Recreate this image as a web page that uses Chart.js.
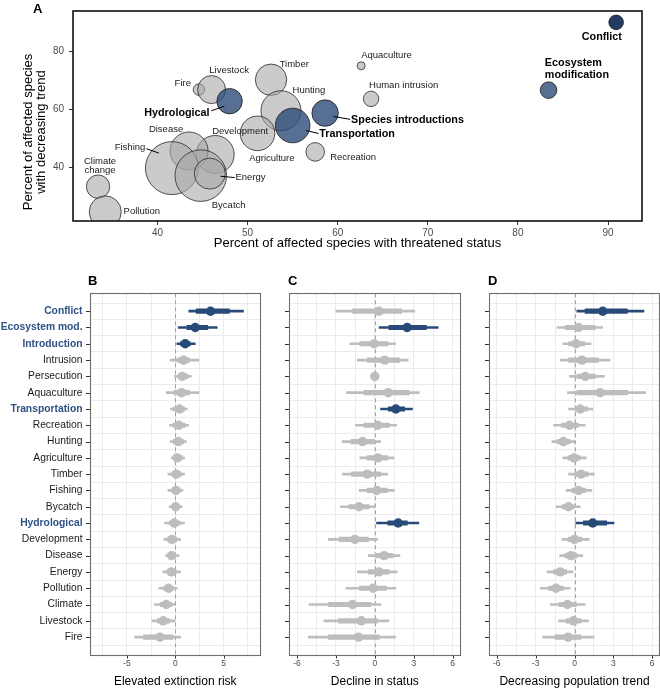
<!DOCTYPE html>
<html><head><meta charset="utf-8">
<script src="https://cdn.jsdelivr.net/npm/chart.js@4"></script>
<style>
html,body{margin:0;padding:0;background:#fff;}
body{width:660px;height:692px;position:relative;overflow:hidden;font-family:"Liberation Sans",Arial,sans-serif;}
canvas{position:absolute;}
.pl{position:absolute;font:bold 13px "Liberation Sans",Arial,sans-serif;color:#000;line-height:16px;}
</style></head><body>
<canvas id="cA" width="660" height="258" style="left:0;top:0"></canvas>
<canvas id="cB" width="270" height="422" style="left:0;top:270px"></canvas>
<canvas id="cC" width="190" height="422" style="left:280px;top:270px"></canvas>
<canvas id="cD" width="180" height="422" style="left:480px;top:270px"></canvas>
<div class="pl" style="left:33px;top:1px">A</div>
<div class="pl" style="left:88px;top:273px">B</div>
<div class="pl" style="left:288px;top:273px">C</div>
<div class="pl" style="left:488px;top:273px">D</div>
<script>
// ---------------- Panel A data ----------------
const threatNames = ['Climate change','Pollution','Fire','Livestock','Hydrological','Timber','Hunting','Development','Disease','Fishing','Bycatch','Energy','Agriculture','Transportation','Recreation','Species introductions','Aquaculture','Human intrusion','Ecosystem modification','Conflict'];
const pctThreatened = [33.4,34.2,44.6,46.0,48.0,52.6,53.7,46.4,43.5,41.6,44.8,45.8,51.1,55.0,57.5,58.6,62.6,63.7,83.4,90.9];
const pctDecreasing = [33.4,24.7,66.9,66.9,62.9,70.3,59.6,44.5,45.7,39.8,37.2,37.9,51.8,54.5,45.4,58.8,75.1,63.7,66.7,90.1];
const bubbleSize = [11.7,16,5.7,14,12.7,15.7,20,19,19,26.5,25.8,15.5,17.3,17.3,9.3,13.2,4,7.7,8.3,7.3];
const highlightedThreats = ['Hydrological','Transportation','Species introductions','Ecosystem modification','Conflict'];
const xTicksA = [40,50,60,70,80,90];
const yTicksA = [40,60,80];

// ---------------- Panels B-D data ----------------
const driverLabels = ['Conflict','Ecosystem mod.','Introduction','Intrusion','Persecution','Aquaculture','Transportation','Recreation','Hunting','Agriculture','Timber','Fishing','Bycatch','Hydrological','Development','Disease','Energy','Pollution','Climate','Livestock','Fire'];
const highlightedDrivers = ['Conflict','Ecosystem mod.','Introduction','Transportation','Hydrological'];

const riskMean = [3.65,2.07,1.03,0.86,0.72,0.65,0.45,0.38,0.31,0.2,0.12,0.07,0.03,-0.1,-0.35,-0.38,-0.41,-0.69,-0.93,-1.24,-1.59];
const riskLo95 = [1.4,0.31,0.17,-0.52,-0.07,-0.93,-0.49,-0.59,-0.52,-0.41,-0.76,-0.76,-0.64,-1.1,-1.18,-1.0,-1.28,-1.7,-2.14,-2.42,-4.2];
const riskHi95 = [7.06,4.34,2.07,2.44,1.65,2.44,1.24,1.38,1.14,0.96,0.96,0.79,0.72,0.96,0.55,0.38,0.55,0.2,0.0,0.0,0.55];
const riskLo66 = [2.17,1.2,0.55,0.2,0.3,-0.14,-0.17,-0.24,-0.2,-0.15,-0.35,-0.35,-0.3,-0.6,-0.8,-0.7,-0.85,-1.2,-1.55,-1.85,-3.28];
const riskHi66 = [5.6,3.37,1.55,1.48,1.3,1.48,0.96,1.03,0.85,0.7,0.6,0.5,0.45,0.5,0.15,0.05,0.1,-0.2,-0.35,-0.6,-0.24];
const riskSignificant = ['Conflict','Ecosystem mod.','Introduction'];

const statusMean = [0.31,2.49,-0.05,0.77,0.0,1.03,1.62,0.23,-0.95,0.23,-0.59,0.15,-1.21,1.8,-1.54,0.72,0.31,-0.13,-1.72,-1.03,-1.26];
const statusLo95 = [-3.0,0.33,-1.93,-1.36,-0.1,-2.18,0.44,-1.49,-2.52,-1.16,-2.49,-1.21,-2.65,0.13,-3.6,-0.51,-1.34,-2.24,-5.07,-3.93,-5.14];
const statusHi95 = [3.08,4.88,1.59,2.57,0.1,3.42,2.9,1.67,0.44,1.47,0.98,1.49,0.03,3.39,0.21,1.93,1.72,1.62,0.46,1.08,1.59];
const statusLo66 = [-1.72,1.08,-1.16,-0.57,-0.05,-0.85,1.03,-0.85,-1.85,-0.6,-1.8,-0.6,-2.0,1.0,-2.75,0.05,-0.5,-1.2,-3.6,-2.8,-3.6];
const statusHi66 = [2.06,3.98,1.02,1.93,0.05,2.65,2.3,1.13,-0.05,1.0,0.44,0.95,-0.45,2.5,-0.5,1.4,1.1,0.9,-0.3,0.2,0.35];
const statusSignificant = ['Ecosystem mod.','Transportation','Hydrological'];

const trendMean = [2.18,0.31,0.13,0.57,0.82,1.98,0.44,-0.38,-0.85,-0.03,0.51,0.31,-0.46,1.41,0.0,-0.28,-1.1,-1.43,-0.54,-0.08,-0.49];
const trendLo95 = [0.18,-1.35,-0.9,-1.1,-0.38,-0.54,-0.46,-1.62,-1.74,-0.9,-0.46,-0.64,-1.41,0.1,-0.97,-1.15,-2.12,-2.64,-1.87,-1.23,-2.46];
const trendHi95 = [5.36,2.18,1.28,2.75,2.31,5.49,1.41,0.82,0.05,0.9,1.54,1.34,0.44,3.05,1.13,0.64,-0.13,-0.33,0.82,1.08,1.51];
const trendLo66 = [0.82,-0.72,-0.45,-0.46,0.2,0.18,0.0,-1.0,-1.35,-0.5,0.0,-0.2,-0.95,0.69,-0.5,-0.75,-1.6,-2.0,-1.2,-0.65,-1.5];
const trendHi66 = [4.08,1.6,0.8,1.85,1.6,4.1,1.0,0.3,-0.35,0.45,1.05,0.85,0.0,2.49,0.55,0.2,-0.6,-0.85,0.15,0.5,0.5];
const trendSignificant = ['Conflict','Hydrological'];

const riskTicks = [-7.5,-5,-2.5,0,2.5,5,7.5];
const riskTickLabels = [-5,0,5];
const sixTicks = [-6,-4.5,-3,-1.5,0,1.5,3,4.5,6];
const sixTickLabels = [-6,-3,0,3,6];

// ---------------- styles ----------------
const FONT = '"Liberation Sans", Arial, Helvetica, sans-serif';
const BLUE = '#284a78';
const GREY = '#bdbdbd';
const LABEL_BLUE = '#2f5286';

// ---------------- Panel A ----------------
const labelLayout = {
  'Climate change': {lines:['Climate','change'], dx:2, dy:-25.3, lh:8.8, align:'center'},
  'Pollution': {dx:18.3, dy:-0.4, align:'left'},
  'Fire': {dx:-8, dy:-6, align:'right'},
  'Livestock': {dx:17.5, dy:-19.3, align:'center'},
  'Hydrological': {dx:-20, dy:12.3, align:'right', leader:[-18.3,9.6,-5.3,5]},
  'Timber': {dx:8.6, dy:-15.7, align:'left'},
  'Hunting': {dx:11.6, dy:-20.4, align:'left'},
  'Development': {dx:-3, dy:-22.7, align:'left'},
  'Disease': {dx:-23, dy:-22, align:'center'},
  'Fishing': {dx:-26.6, dy:-21, align:'right', leader:[-25.6,-19.4,-13,-15]},
  'Energy': {dx:25.7, dy:3.3, align:'left', leader:[10.7,2.6,25,4]},
  'Bycatch': {dx:11, dy:29.7, align:'left'},
  'Agriculture': {dx:-8.4, dy:25, align:'left'},
  'Transportation': {dx:26.7, dy:9, align:'left', leader:[13.4,5,26,8]},
  'Recreation': {dx:15, dy:5, align:'left'},
  'Species introductions': {dx:26, dy:7.3, align:'left', leader:[8.3,3.3,25,6.3]},
  'Aquaculture': {dx:0, dy:-10.3, align:'left'},
  'Human intrusion': {dx:-2, dy:-13.6, align:'left'},
  'Ecosystem modification': {lines:['Ecosystem','modification'], dx:-3.7, dy:-27.3, lh:12.3, align:'left'},
  'Conflict': {dx:-14.3, dy:14.3, align:'center'}
};

const annotPlugin = {
  id:'annotA',
  afterDatasetsDraw(chart){
    const ctx = chart.ctx, xs = chart.scales.x, ys = chart.scales.y, a = chart.chartArea;
    ctx.save();
    threatNames.forEach((name,i)=>{
      const L = labelLayout[name]; if(!L) return;
      const px = xs.getPixelForValue(pctThreatened[i]);
      const py = ys.getPixelForValue(pctDecreasing[i]);
      const bold = highlightedThreats.includes(name);
      ctx.font = (bold ? 'bold 10.8px ' : '9.5px ') + FONT;
      ctx.fillStyle = bold ? '#000' : '#1a1a1a';
      ctx.textAlign = L.align; ctx.textBaseline = 'middle';
      const lines = L.lines || [name];
      lines.forEach((t,k)=>ctx.fillText(t, px+L.dx, py+L.dy+k*(L.lh||0)));
      if(L.leader){
        ctx.strokeStyle = '#000'; ctx.lineWidth = 1;
        ctx.beginPath();
        ctx.moveTo(px+L.leader[0], py+L.leader[1]);
        ctx.lineTo(px+L.leader[2], py+L.leader[3]);
        ctx.stroke();
      }
    });
    // panel border
    ctx.strokeStyle = '#111'; ctx.lineWidth = 1.6;
    ctx.strokeRect(a.left, a.top, a.right-a.left, a.bottom-a.top);
    // y axis title (two lines)
    ctx.fillStyle = '#000';
    ctx.font = '13px ' + FONT;
    ctx.textAlign = 'center'; ctx.textBaseline = 'middle';
    ctx.translate(28, 132);
    ctx.rotate(-Math.PI/2);
    ctx.fillText('Percent of affected species', 0, 0);
    ctx.fillText('with decreasing trend', 0, 13);
    ctx.restore();
  }
};

const idxAll = threatNames.map((_,i)=>i);
const greyIdx = idxAll.filter(i=>!highlightedThreats.includes(threatNames[i]));
const blueIdx = idxAll.filter(i=>highlightedThreats.includes(threatNames[i]));
const pt = i => ({x:pctThreatened[i], y:pctDecreasing[i], r:bubbleSize[i]});

new Chart(document.getElementById('cA'), {
  type:'bubble',
  data:{datasets:[
    {data: blueIdx.map(pt), order:0, clip:0,
     backgroundColor: blueIdx.map(i=>threatNames[i]==='Conflict' ? 'rgba(28,54,95,0.97)' : 'rgba(45,75,120,0.8)'),
     borderColor:'#1a1a1a', borderWidth:0.8, hoverRadius:0},
    {data: greyIdx.map(pt), order:1, clip:0,
     backgroundColor:'rgba(168,168,168,0.6)', borderColor:'#2a2a2a', borderWidth:0.8, hoverRadius:0}
  ]},
  options:{
    responsive:false, animation:false, devicePixelRatio:1,
    layout:{autoPadding:false, padding:{left:0,right:18,top:5,bottom:0}},
    plugins:{legend:{display:false}, tooltip:{enabled:false}},
    events:[],
    scales:{
      x:{type:'linear', min:30.62, max:93.77,
        afterBuildTicks:s=>{s.ticks = xTicksA.map(v=>({value:v}));},
        afterFit:s=>{s.height = 37;},
        grid:{display:true, drawOnChartArea:false, drawTicks:true, tickLength:4, tickColor:'#333', tickWidth:1},
        border:{display:false},
        ticks:{font:{family:FONT,size:10}, color:'#4d4d4d', padding:2, maxRotation:0, autoSkip:false},
        title:{display:true, text:'Percent of affected species with threatened status', font:{family:FONT,size:13}, color:'#000', padding:{top:0,bottom:7}}
      },
      y:{type:'linear', min:21.54, max:94.03,
        afterBuildTicks:s=>{s.ticks = yTicksA.map(v=>({value:v}));},
        afterFit:s=>{s.width = 73;},
        grid:{display:true, drawOnChartArea:false, drawTicks:true, tickLength:4, tickColor:'#333', tickWidth:1},
        border:{display:false},
        ticks:{font:{family:FONT,size:10}, color:'#4d4d4d', padding:5, autoSkip:false}
      }
    }
  },
  plugins:[annotPlugin]
});

// ---------------- Panels B-D ----------------
function forestPanel(id, cfg){
  const {mean, lo95, hi95, lo66, hi66, significant, range, ticks, tickLabels, title, showLabels, yWidth, padRight} = cfg;
  const idx = driverLabels.map((_,i)=>i);
  const col = driverLabels.map(d => significant.includes(d) ? BLUE : GREY);
  const deco = {
    id:'deco_'+id,
    beforeDatasetsDraw(chart){
      const ctx = chart.ctx, a = chart.chartArea, x0 = Math.round(chart.scales.x.getPixelForValue(0))+0.5;
      ctx.save();
      ctx.strokeStyle = '#a3a3a3'; ctx.lineWidth = 1; ctx.setLineDash([4,3]);
      ctx.beginPath(); ctx.moveTo(x0, a.top); ctx.lineTo(x0, a.bottom); ctx.stroke();
      ctx.restore();
    },
    afterDraw(chart){
      const ctx = chart.ctx, a = chart.chartArea, xs = chart.scales.x, ys = chart.scales.y;
      ctx.save();
      ctx.strokeStyle = '#333'; ctx.lineWidth = 1;
      ctx.beginPath();
      idx.forEach(i=>{ const y = Math.round(ys.getPixelForValue(i))+0.5; ctx.moveTo(a.left-4, y); ctx.lineTo(a.left, y); });
      tickLabels.forEach(v=>{ const x = Math.round(xs.getPixelForValue(v))+0.5; ctx.moveTo(x, a.bottom); ctx.lineTo(x, a.bottom+3.5); });
      ctx.stroke();
      ctx.strokeStyle = '#6e6e6e'; ctx.lineWidth = 1.1;
      ctx.strokeRect(Math.round(a.left)+0.5, Math.round(a.top)+0.5, Math.round(a.right-a.left)-1, Math.round(a.bottom-a.top));
      ctx.restore();
    }
  };
  new Chart(document.getElementById(id), {
    type:'bar',
    data:{datasets:[
      {type:'bar', indexAxis:'y', data: idx.map(i=>({x:[lo95[i],hi95[i]], y:i})), backgroundColor:col, barThickness:2, grouped:false, borderWidth:0, order:3},
      {type:'bar', indexAxis:'y', data: idx.map(i=>({x:[lo66[i],hi66[i]], y:i})), backgroundColor:col, barThickness:4.5, grouped:false, borderWidth:0, order:2},
      {type:'scatter', indexAxis:'y', data: idx.map(i=>({x:mean[i], y:i})), pointBackgroundColor:col, backgroundColor:col, pointBorderWidth:0, pointRadius:4.7, pointHoverRadius:4.7, order:1}
    ]},
    options:{
      indexAxis:'y', responsive:false, animation:false, devicePixelRatio:1, events:[],
      layout:{autoPadding:false, padding:{left:0,right:padRight,top:23.3,bottom:0}},
      plugins:{legend:{display:false}, tooltip:{enabled:false}},
      scales:{
        x:{type:'linear', min:range[0], max:range[1],
          afterBuildTicks:s=>{s.ticks = ticks.map(v=>({value:v}));},
          afterFit:s=>{s.height = 37;},
          grid:{color:'#ebebeb', lineWidth:1, drawTicks:false},
          border:{display:false},
          ticks:{autoSkip:false, maxRotation:0, padding:4, font:{family:FONT,size:8.5}, color:'#4d4d4d',
                 callback:v=> tickLabels.includes(v) ? String(v) : ''},
          title:{display:true, text:title, font:{family:FONT,size:12}, color:'#000', padding:{top:0,bottom:3}}
        },
        y:{type:'linear', reverse:true, min:-0.57, max:20.57,
          afterBuildTicks:s=>{s.ticks = idx.map(v=>({value:v}));},
          afterFit:s=>{s.width = yWidth;},
          grid:{color:'#ebebeb', lineWidth:1, drawTicks:false},
          border:{display:false},
          ticks:{display:showLabels, autoSkip:false, padding:7.5,
            callback:v=>driverLabels[v],
            font:c=>({family:FONT, size:10.3, weight:(c.tick && highlightedDrivers.includes(driverLabels[c.tick.value])) ? 'bold' : 'normal'}),
            color:c=>(c.tick && highlightedDrivers.includes(driverLabels[c.tick.value])) ? LABEL_BLUE : '#1a1a1a'}
        }
      }
    },
    plugins:[deco]
  });
}

forestPanel('cB', {mean:riskMean, lo95:riskLo95, hi95:riskHi95, lo66:riskLo66, hi66:riskHi66, significant:riskSignificant,
  range:[-8.82,8.82], ticks:riskTicks, tickLabels:riskTickLabels, title:'Elevated extinction risk', showLabels:true, yWidth:90, padRight:9.5});
forestPanel('cC', {mean:statusMean, lo95:statusLo95, hi95:statusHi95, lo66:statusLo66, hi66:statusHi66, significant:statusSignificant,
  range:[-6.62,6.62], ticks:sixTicks, tickLabels:sixTickLabels, title:'Decline in status', showLabels:false, yWidth:9, padRight:9.3});
forestPanel('cD', {mean:trendMean, lo95:trendLo95, hi95:trendHi95, lo66:trendLo66, hi66:trendHi66, significant:trendSignificant,
  range:[-6.6,6.6], ticks:sixTicks, tickLabels:sixTickLabels, title:'Decreasing population trend', showLabels:false, yWidth:9, padRight:0});
</script>
</body></html>
